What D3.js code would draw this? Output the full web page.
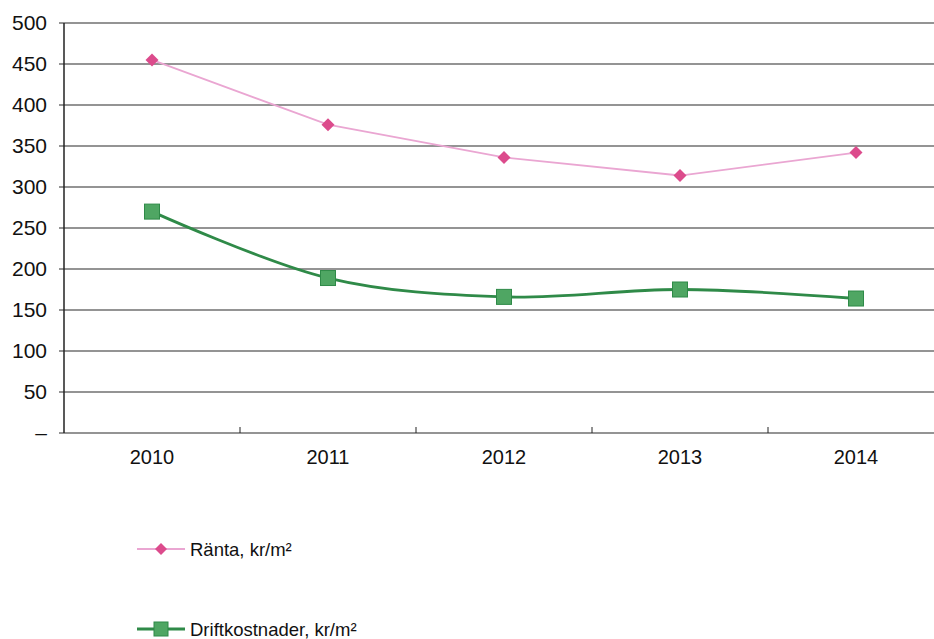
<!DOCTYPE html>
<html>
<head>
<meta charset="utf-8">
<script src="https://cdn.jsdelivr.net/npm/d3@7"></script>
<style>
  body { margin: 0; background: #fff; }
  svg { display: block; font-family: "Liberation Sans", Arial, sans-serif; }
</style>
</head>
<body>
<div id="wrapper"></div>
<script>
const years = ["2010", "2011", "2012", "2013", "2014"]
const ranta = [455, 376, 336, 314, 342]
const drift = [270, 189, 166, 175, 164]
const yTicks = [0, 50, 100, 150, 200, 250, 300, 350, 400, 450, 500]

const width = 934
const height = 639
const margin = {top: 23, left: 64, bottom: 206}

const svg = d3.select("#wrapper").append("svg")
    .attr("width", width)
    .attr("height", height)

const xScale = d3.scaleBand()
    .domain(years)
    .range([margin.left, margin.left + 5 * 176])
const yScale = d3.scaleLinear()
    .domain([0, 500])
    .range([height - margin.bottom, margin.top])

// gridlines
svg.append("g")
  .selectAll("line")
  .data(yTicks)
  .join("line")
    .attr("x1", margin.left - 5)
    .attr("x2", width)
    .attr("y1", d => yScale(d))
    .attr("y2", d => yScale(d))
    .attr("stroke", "#2a2a2a")
    .attr("stroke-width", 1.2)

// y axis line
svg.append("line")
    .attr("x1", margin.left).attr("x2", margin.left)
    .attr("y1", yScale(500)).attr("y2", yScale(0))
    .attr("stroke", "#222")
    .attr("stroke-width", 1.5)

// y labels
svg.append("g")
  .selectAll("text")
  .data(yTicks)
  .join("text")
    .attr("x", 47)
    .attr("y", d => yScale(d) + 7)
    .attr("text-anchor", "end")
    .style("font-size", "21px")
    .attr("fill", "#111")
    .text(d => d === 0 ? "–" : d)

// x ticks between categories
svg.append("g")
  .selectAll("line")
  .data(years.slice(1))
  .join("line")
    .attr("x1", d => xScale(d)).attr("x2", d => xScale(d))
    .attr("y1", yScale(0) - 6).attr("y2", yScale(0))
    .attr("stroke", "#222")

svg.append("g")
  .selectAll("text")
  .data(years)
  .join("text")
    .attr("x", d => xScale(d) + xScale.bandwidth() / 2)
    .attr("y", yScale(0) + 31)
    .attr("text-anchor", "middle")
    .style("font-size", "20px")
    .attr("fill", "#111")
    .text(d => d)

const cx = d => xScale(d) + xScale.bandwidth() / 2
const diamond = "M0,-6.5L6.5,0L0,6.5L-6.5,0Z"

// Ränta
svg.append("path")
    .datum(ranta)
    .attr("fill", "none")
    .attr("stroke", "#eaa6d2")
    .attr("stroke-width", 1.8)
    .attr("d", d3.line().x((d, i) => cx(years[i])).y(d => yScale(d)))
svg.append("g")
  .selectAll("path")
  .data(ranta)
  .join("path")
    .attr("transform", (d, i) => `translate(${cx(years[i])},${yScale(d)})`)
    .attr("d", diamond)
    .attr("fill", "#dc4b8c")

// Driftkostnader
svg.append("path")
    .datum(drift)
    .attr("fill", "none")
    .attr("stroke", "#2f8a48")
    .attr("stroke-width", 2.8)
    .attr("d", d3.line().curve(d3.curveCatmullRom).x((d, i) => cx(years[i])).y(d => yScale(d)))
svg.append("g")
  .selectAll("rect")
  .data(drift)
  .join("rect")
    .attr("x", (d, i) => cx(years[i]) - 7.5)
    .attr("y", d => yScale(d) - 7.5)
    .attr("width", 15)
    .attr("height", 15)
    .attr("fill", "#4fa663")
    .attr("stroke", "#2f8a48")
    .attr("stroke-width", 1)

// legend
const legend = svg.append("g")
legend.append("line")
    .attr("x1", 137).attr("x2", 185).attr("y1", 549).attr("y2", 549)
    .attr("stroke", "#eaa6d2").attr("stroke-width", 1.8)
legend.append("path")
    .attr("transform", "translate(161,549)")
    .attr("d", "M0,-6L6,0L0,6L-6,0Z")
    .attr("fill", "#dc4b8c")
legend.append("text")
    .attr("x", 190).attr("y", 556)
    .style("font-size", "18.5px")
    .attr("fill", "#111")
    .text("Ränta, kr/m²")

legend.append("line")
    .attr("x1", 137).attr("x2", 185).attr("y1", 629).attr("y2", 629)
    .attr("stroke", "#2f8a48").attr("stroke-width", 2.8)
legend.append("rect")
    .attr("x", 154).attr("y", 622).attr("width", 14).attr("height", 14)
    .attr("fill", "#4fa663").attr("stroke", "#2f8a48")
legend.append("text")
    .attr("x", 190).attr("y", 636)
    .style("font-size", "18.5px")
    .attr("fill", "#111")
    .text("Driftkostnader, kr/m²")
</script>
</body>
</html>
